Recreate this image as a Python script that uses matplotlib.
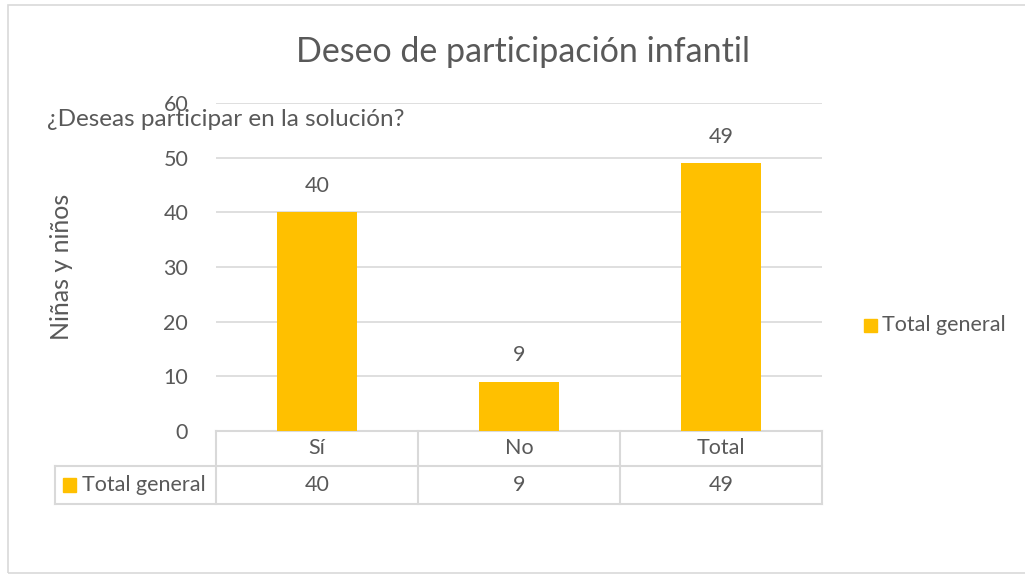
import matplotlib
matplotlib.use('Agg')
import matplotlib.pyplot as plt
from matplotlib.patches import Rectangle

# Data
categories = ['Sí', 'No', 'Total']
values = [40, 9, 49]
series_name = 'Total general'
title = 'Deseo de participación infantil'
ylabel = 'Niñas y niños'
field_label = '¿Deseas participar en la solución?'
yticks = [0, 10, 20, 30, 40, 50, 60]

bar_color = '#FFC000'
text_color = '#595959'
grid_color = '#D9D9D9'
fs = 15.5

plt.rcParams['font.family'] = ['Lato', 'DejaVu Sans']

fig = plt.figure(figsize=(10.25, 5.75), dpi=100)
fig.patch.set_facecolor('white')

# chart area border
fig.add_artist(Rectangle((8 / 1025, 2 / 575), 1.1, 568 / 575, transform=fig.transFigure,
                         fill=False, edgecolor=grid_color, lw=1.2))

ax = fig.add_axes([216 / 1025, 1 - 431 / 575, 606 / 1025, 328 / 575])
x = list(range(len(categories)))
ax.bar(x, values, width=0.4, color=bar_color, zorder=3)
for xi, v in zip(x, values):
    ax.text(xi, v + 3, str(v), ha='center', va='bottom', fontsize=fs, color=text_color)

ax.set_xlim(-0.5, len(categories) - 0.5)
ax.set_ylim(0, 60)
ax.set_yticks(yticks)
ax.set_yticklabels([str(t) for t in yticks], fontsize=fs, color=text_color)
ax.tick_params(axis='y', length=0, pad=20)
ax.set_xticks([])
ax.yaxis.grid(True, color=grid_color, lw=1.2, zorder=0)
for s in ax.spines.values():
    s.set_visible(False)
ax.set_ylabel(ylabel, fontsize=18, color=text_color, labelpad=0)
ax.yaxis.set_label_coords(-0.255, 0.5)
ax.yaxis.label.set_va('center')

fig.text(523 / 1025, 1 - 52 / 575, title, ha='center', va='center', fontsize=24.5, color=text_color)
fig.text(47 / 1025, 1 - 119 / 575, field_label, ha='left', va='center', fontsize=17.5,
         color=text_color)

# data table below the plot
row1 = -35 / 328
row2 = -73 / 328
left = -0.5 - 161 / 606 * 3
trans = ax.get_xaxis_transform()
tkw = dict(transform=trans, clip_on=False, color=grid_color, lw=1.5)
ax.plot([-0.5, 2.5], [0, 0], **tkw)
ax.plot([left, 2.5], [row1, row1], **tkw)
ax.plot([left, 2.5], [row2, row2], **tkw)
ax.plot([left, left], [row1, row2], **tkw)
for b in [-0.5, 0.5, 1.5, 2.5]:
    ax.plot([b, b], [0, row2], **tkw)

for xi, cat, v in zip(x, categories, values):
    ax.text(xi, row1 / 2, cat, ha='center', va='center', fontsize=fs, color=text_color,
            transform=trans)
    ax.text(xi, (row1 + row2) / 2, str(v), ha='center', va='center', fontsize=fs,
            color=text_color, transform=trans)

ax.add_patch(Rectangle((left + 0.04, (row1 + row2) / 2 - 0.02), 0.065, 0.04,
                       transform=trans, clip_on=False, color=bar_color))
ax.text(left + 0.135, (row1 + row2) / 2, series_name, ha='left', va='center', fontsize=fs,
        color=text_color, transform=trans)

# legend on the right
fig.add_artist(Rectangle((864 / 1025, 1 - 332 / 575), 13 / 1025, 13 / 575,
                         transform=fig.transFigure, color=bar_color))
fig.text(882 / 1025, 1 - 325 / 575, series_name, ha='left', va='center', fontsize=fs,
         color=text_color)

fig.savefig('out.png', dpi=100)
